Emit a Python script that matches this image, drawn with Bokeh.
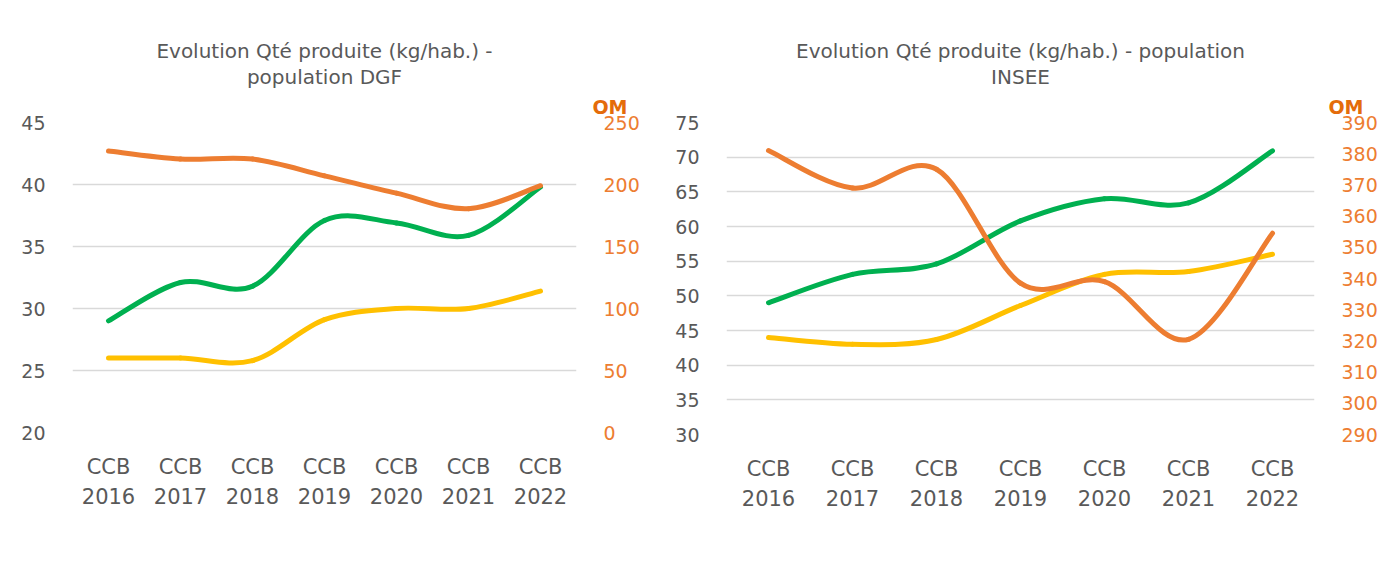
from bokeh.plotting import figure
from bokeh.models import Range1d, LinearAxis, FixedTicker, Legend, LegendItem, Title, ColumnDataSource
from bokeh.layouts import row
from bokeh.embed import file_html
from bokeh.resources import INLINE

# ---------------- data ----------------
categories = ["CCB 2016", "CCB 2017", "CCB 2018", "CCB 2019", "CCB 2020", "CCB 2021", "CCB 2022"]
series_names = ["EMR + papiers", "Verre", "OM"]

dgf_emr = [26.0, 26.0, 25.8, 29.1, 30.0, 30.0, 31.4]
dgf_verre = [29.0, 32.1, 31.8, 37.1, 36.9, 35.9, 39.8]
dgf_om = [227, 220.5, 220.5, 207, 193, 180.5, 199]

insee_emr = [44.0, 43.0, 43.7, 48.6, 53.1, 53.5, 56.0]
insee_verre = [49.0, 53.1, 54.6, 60.8, 64.0, 63.4, 70.9]
insee_om = [381, 369, 375, 338.5, 339, 320.5, 354.5]

dgf_left_ticks = [20, 25, 30, 35, 40, 45]
dgf_right_ticks = [0, 50, 100, 150, 200, 250]
insee_left_ticks = [30, 35, 40, 45, 50, 55, 60, 65, 70, 75]
insee_right_ticks = [290, 300, 310, 320, 330, 340, 350, 360, 370, 380, 390]

title_dgf = ["Evolution Qté produite (kg/hab.) -", "population DGF"]
title_insee = ["Evolution Qté produite (kg/hab.) - population", "INSEE"]

# ---------------- style ----------------
FONT = "DejaVu Sans"
GREY = "#595959"
YELLOW = "#FFC000"
GREEN = "#00B050"
ORANGE = "#ED7D31"
OM_TITLE = "#E46C0A"


def bezier_source(ys):
    n = len(ys)
    xs = list(range(n))

    def pt(i):
        i = max(0, min(n - 1, i))
        return xs[i], ys[i]

    d = {k: [] for k in ["x0", "y0", "x1", "y1", "cx0", "cy0", "cx1", "cy1"]}
    for i in range(n - 1):
        xa, ya = pt(i)
        xb, yb = pt(i + 1)
        xp, yp = pt(i - 1)
        xn, yn = pt(i + 2)
        d["x0"].append(xa); d["y0"].append(ya)
        d["x1"].append(xb); d["y1"].append(yb)
        d["cx0"].append(xa + (xb - xp) / 6.0); d["cy0"].append(ya + (yb - yp) / 6.0)
        d["cx1"].append(xb - (xn - xa) / 6.0); d["cy1"].append(yb - (yn - ya) / 6.0)
    return ColumnDataSource(d)


def style_axis(ax, size, color, standoff):
    ax.axis_line_color = None
    ax.major_tick_line_color = None
    ax.minor_tick_line_color = None
    ax.major_label_text_font = FONT
    ax.major_label_text_font_size = size
    ax.major_label_text_color = color
    ax.major_label_standoff = standoff


def make_chart(fw, fh, left_rng, right_rng, left_ticks, right_ticks, emr, verre, om,
               title_lines, om_offset, mb):
    p = figure(title=None, frame_width=fw, frame_height=fh, x_range=Range1d(-0.5, 6.5),
               y_range=Range1d(*left_rng), output_backend="svg", toolbar_location=None,
               min_border_left=mb[0], min_border_right=mb[1], min_border_top=mb[2],
               min_border_bottom=mb[3], outline_line_color=None)
    p.extra_y_ranges = {"om": Range1d(*right_rng)}

    xticks = list(range(len(categories)))
    # x axis: first row "CCB", second row the year
    xa = p.xaxis[0]
    xa.ticker = FixedTicker(ticks=xticks)
    xa.major_label_overrides = {i: c.split(" ")[0] for i, c in enumerate(categories)}
    style_axis(xa, "21px", GREY, 16)
    xb = LinearAxis(ticker=FixedTicker(ticks=xticks),
                    major_label_overrides={i: c.split(" ")[1] for i, c in enumerate(categories)})
    style_axis(xb, "21px", GREY, 0)
    p.add_layout(xb, "below")
    p.xgrid.visible = False

    # left axis
    ya = p.yaxis[0]
    ya.ticker = FixedTicker(ticks=left_ticks)
    style_axis(ya, "19px", GREY, 21)
    p.ygrid.ticker = FixedTicker(ticks=left_ticks)
    p.ygrid.grid_line_color = "#D9D9D9"
    p.ygrid.grid_line_width = 1.5

    # right axis
    ra = LinearAxis(y_range_name="om", ticker=FixedTicker(ticks=right_ticks))
    style_axis(ra, "19px", ORANGE, 21)
    p.add_layout(ra, "right")

    # smoothed lines
    kw = dict(x0="x0", y0="y0", x1="x1", y1="y1", cx0="cx0", cy0="cy0", cx1="cx1", cy1="cy1",
              line_width=5, line_cap="round")
    p.bezier(source=bezier_source(emr), line_color=YELLOW, **kw)
    p.bezier(source=bezier_source(verre), line_color=GREEN, **kw)
    p.bezier(source=bezier_source(om), line_color=ORANGE, y_range_name="om", **kw)

    # legend proxies (no data, only their style is used by the legend)
    lk = dict(line_width=6, line_cap="round")
    l_emr = p.line(x=[], y=[], line_color=YELLOW, **lk)
    l_verre = p.line(x=[], y=[], line_color=GREEN, **lk)
    l_om = p.line(x=[], y=[], line_color=ORANGE, **lk)
    items = [LegendItem(label=series_names[0], renderers=[l_emr]),
             LegendItem(label=series_names[1], renderers=[l_verre]),
             LegendItem(label=series_names[2], renderers=[l_om])]
    legend = Legend(items=items, orientation="horizontal", location="top_center",
                    glyph_width=51, glyph_height=20, label_height=20, label_standoff=4,
                    spacing=27, padding=0, margin=0, border_line_color=None,
                    background_fill_alpha=0,
                    label_text_font=FONT, label_text_font_size="20px", label_text_color=GREY)
    p.add_layout(legend, "below")

    # titles (first added sits nearest the frame)
    p.add_layout(Title(text=series_names[2], align="right", offset=om_offset, standoff=10,
                       text_font=FONT, text_font_size="19px", text_font_style="bold",
                       text_color=OM_TITLE), "above")
    p.add_layout(Title(text=title_lines[1], align="center", standoff=0,
                       text_font=FONT, text_font_size="20px", text_font_style="normal",
                       text_color=GREY), "above")
    p.add_layout(Title(text=title_lines[0], align="center", standoff=0,
                       text_font=FONT, text_font_size="20px", text_font_style="normal",
                       text_color=GREY), "above")
    return p


p1 = make_chart(504, 310, (20, 45), (0, 250), dgf_left_ticks, dgf_right_ticks,
                dgf_emr, dgf_verre, dgf_om, title_dgf, -51, (72, 73, 122, 0))

p2 = make_chart(588, 312, (30, 75), (290, 390), insee_left_ticks, insee_right_ticks,
                insee_emr, insee_verre, insee_om, title_insee, -49, (72, 59, 121, 0))

layout = row(p1, p2, spacing=5)
open("out.html", "w").write(file_html(layout, INLINE))
